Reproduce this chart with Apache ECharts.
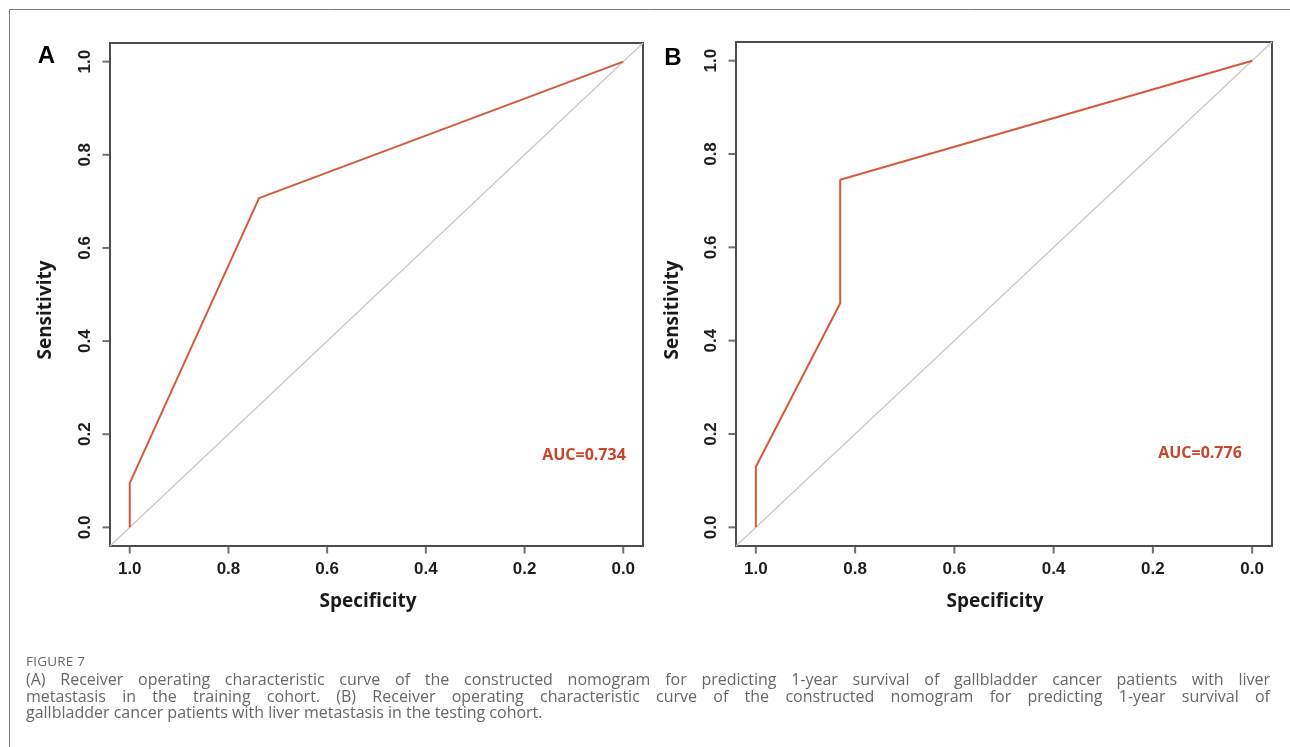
<!DOCTYPE html>
<html>
<head>
<meta charset="utf-8">
<script src="https://cdn.jsdelivr.net/npm/echarts@6/dist/echarts.min.js"></script>
<style>
  html, body { margin: 0; padding: 0; background: #fff; }
  #wrap { position: relative; width: 1290px; height: 747px; overflow: hidden; }
  #chart { position: absolute; left: 0; top: 0; width: 1290px; height: 747px; }
  #caption { position: absolute; left: 26px; top: 652px; width: 1244px;
    font-family: "Open Sans", "Noto Sans", sans-serif; color: #676767; }
  #caption .fig { font-size: 13.5px; line-height: 18px; letter-spacing: 0.2px; margin-bottom: 1px; }
  #caption .ln { font-size: 16px; line-height: 16.7px; letter-spacing: 0px; text-align: justify; text-align-last: justify; white-space: nowrap; }
  #caption .ln.last { text-align-last: left; }
</style>
</head>
<body>
<div id="wrap">
  <div id="chart"></div>
  <div id="caption">
    <div class="fig">FIGURE 7</div>
    <div class="ln">(A) Receiver operating characteristic curve of the constructed nomogram for predicting 1-year survival of gallbladder cancer patients with liver</div>
    <div class="ln">metastasis in the training cohort. (B) Receiver operating characteristic curve of the constructed nomogram for predicting 1-year survival of</div>
    <div class="ln last">gallbladder cancer patients with liver metastasis in the testing cohort.</div>
  </div>
</div>
<script>
// ---- data ----
const tickValues = [0, 0.2, 0.4, 0.6, 0.8, 1.0];
const tickLabels = ['0.0', '0.2', '0.4', '0.6', '0.8', '1.0'];

// Panel A (training cohort): specificity / sensitivity
const specA = [1.0, 1.0, 0.738, 0.0];
const sensA = [0.0, 0.095, 0.707, 1.0];
const aucA = 'AUC=0.734';

// Panel B (testing cohort)
const specB = [1.0, 1.0, 0.83, 0.83, 0.0];
const sensB = [0.0, 0.13, 0.48, 0.745, 1.0];
const aucB = 'AUC=0.776';

// reference diagonal (spans the whole plot region)
const diagSpec = [1.04, -0.04];
const diagSens = [-0.04, 1.04];

const axisMin = -0.04, axisMax = 1.04;
const panelLabels = ['A', 'B'];
const xTitle = 'Specificity';
const yTitle = 'Sensitivity';

// ---- build ----
function pairs(xs, ys) { return xs.map((x, i) => [x, ys[i]]); }
function labelOf(v) {
  const i = tickValues.findIndex(t => Math.abs(t - v) < 1e-9);
  return i >= 0 ? tickLabels[i] : '';
}

const rocColor = '#d65a3a';
const diagColor = '#cfc6c4';
const axisColor = '#4d4d4d';
const tickFont = { fontFamily: 'Liberation Sans, Arial, sans-serif', fontWeight: 'bold', fontSize: 17, color: '#1e1e1e' };

const grids = [
  { left: 110, top: 43, width: 533, height: 503 },
  { left: 736, top: 42, width: 536, height: 504 }
];

function xAxisFor(i) {
  return {
    gridIndex: i, type: 'value', inverse: true, min: axisMin, max: axisMax,
    axisLine: { show: false, onZero: false },
    splitLine: { show: false },
    axisTick: { show: false },
    axisLabel: Object.assign({ customValues: tickValues, margin: 15, formatter: labelOf }, tickFont)
  };
}
function yAxisFor(i) {
  return {
    gridIndex: i, type: 'value', min: axisMin, max: axisMax,
    axisLine: { show: false, onZero: false },
    splitLine: { show: false },
    axisTick: { show: false },
    axisLabel: Object.assign({ customValues: tickValues, margin: 16, rotate: 90, formatter: labelOf }, tickFont)
  };
}

// outward tick marks, placed on the plot box edges through the axis scales
function xTickSeries(i) {
  return {
    type: 'scatter', xAxisIndex: i, yAxisIndex: i, clip: false, silent: true, z: 5,
    data: tickValues.map(v => [v, axisMin]),
    symbol: 'rect', symbolSize: [2, 7], symbolOffset: [0, 4],
    itemStyle: { color: axisColor }, emphasis: { disabled: true }
  };
}
function yTickSeries(i) {
  return {
    type: 'scatter', xAxisIndex: i, yAxisIndex: i, clip: false, silent: true, z: 5,
    data: tickValues.map(v => [axisMax, v]),
    symbol: 'rect', symbolSize: [7, 2], symbolOffset: [-4, 0],
    itemStyle: { color: axisColor }, emphasis: { disabled: true }
  };
}

const titleFont = { fontFamily: 'Open Sans, Noto Sans, sans-serif', fontWeight: 'bold', fontSize: 19, fill: '#1a1a1a' };
const aucFont = { fontFamily: 'Open Sans, Noto Sans, sans-serif', fontWeight: 'bold', fontSize: 16, fill: '#c8452c' };
const letterFont = { fontFamily: 'Liberation Sans, Arial, sans-serif', fontWeight: 'bold', fontSize: 24, fill: '#000' };

const option = {
  animation: false,
  backgroundColor: '#ffffff',
  grid: grids.map(g => Object.assign({ show: true, borderColor: axisColor, borderWidth: 2 }, g)),
  xAxis: [xAxisFor(0), xAxisFor(1)],
  yAxis: [yAxisFor(0), yAxisFor(1)],
  series: [
    { type: 'line', xAxisIndex: 0, yAxisIndex: 0, data: pairs(diagSpec, diagSens), showSymbol: false, lineStyle: { color: diagColor, width: 1.3 }, z: 1 },
    { type: 'line', xAxisIndex: 0, yAxisIndex: 0, data: pairs(specA, sensA), showSymbol: false, lineStyle: { color: rocColor, width: 2 }, z: 2 },
    { type: 'line', xAxisIndex: 1, yAxisIndex: 1, data: pairs(diagSpec, diagSens), showSymbol: false, lineStyle: { color: diagColor, width: 1.3 }, z: 1 },
    { type: 'line', xAxisIndex: 1, yAxisIndex: 1, data: pairs(specB, sensB), showSymbol: false, lineStyle: { color: rocColor, width: 2 }, z: 2 },
    xTickSeries(0), yTickSeries(0), xTickSeries(1), yTickSeries(1)
  ],
  graphic: [
    // figure frame (top and left rules)
    { type: 'line', shape: { x1: 9, y1: 9.5, x2: 1290, y2: 9.5 }, style: { stroke: '#7a7a7a', lineWidth: 1 } },
    { type: 'line', shape: { x1: 9.5, y1: 9, x2: 9.5, y2: 747 }, style: { stroke: '#7a7a7a', lineWidth: 1 } },
    // panel letters
    { type: 'text', x: 46.5, y: 56, style: Object.assign({ text: panelLabels[0], align: 'center', verticalAlign: 'middle' }, letterFont) },
    { type: 'text', x: 673, y: 58, style: Object.assign({ text: panelLabels[1], align: 'center', verticalAlign: 'middle' }, letterFont) },
    // axis titles
    { type: 'text', x: 368, y: 602, style: Object.assign({ text: xTitle, align: 'center', verticalAlign: 'middle' }, titleFont) },
    { type: 'text', x: 995, y: 602, style: Object.assign({ text: xTitle, align: 'center', verticalAlign: 'middle' }, titleFont) },
    { type: 'text', x: 46, y: 310, rotation: Math.PI / 2, style: Object.assign({ text: yTitle, align: 'center', verticalAlign: 'middle' }, titleFont) },
    { type: 'text', x: 673, y: 310, rotation: Math.PI / 2, style: Object.assign({ text: yTitle, align: 'center', verticalAlign: 'middle' }, titleFont) },
    // AUC annotations
    { type: 'text', x: 584, y: 455, style: Object.assign({ text: aucA, align: 'center', verticalAlign: 'middle' }, aucFont) },
    { type: 'text', x: 1200, y: 453, style: Object.assign({ text: aucB, align: 'center', verticalAlign: 'middle' }, aucFont) }
  ]
};

const chart = echarts.init(document.getElementById('chart'), null, { renderer: 'canvas' });
chart.setOption(option);
</script>
</body>
</html>
